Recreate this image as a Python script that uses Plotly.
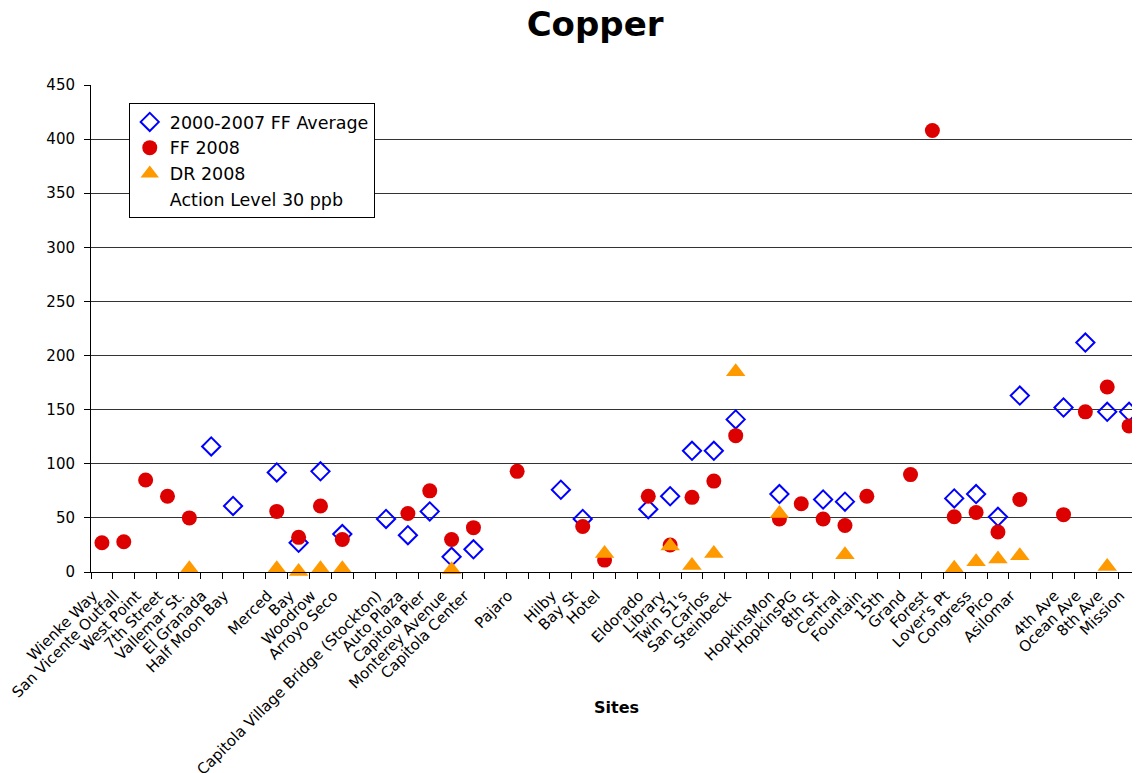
import plotly.graph_objects as go

categories = [
    "Wienke Way", "San Vicente Outfall", "West Point", "7th Street", "Vallemar St.",
    "El Granada", "Half Moon Bay", " ", "Merced", "Bay", "Woodrow", "Arroyo Seco", "  ",
    "Capitola Village Bridge (Stockton)", "Auto Plaza", "Capitola Pier", "Monterey Avenue",
    "Capitola Center", "   ", "Pajaro", "    ", "Hilby", "Bay St", "Hotel", "     ",
    "Eldorado", "Library", "Twin 51's", "San Carlos", "Steinbeck", "      ",
    "HopkinsMon", "HopkinsPG", "8th St", "Central", "Fountain", "15th", "Grand", "Forest",
    "Lover's Pt", "Congress", "Pico", "Asilomar", "       ", "4th Ave", "Ocean Ave",
    "8th Ave", "Mission",
]

ff_average = [
    None, None, None, None, None, 116, 61, None, 92, 27, 93, 35, None,
    49, 34, 56, 14, 21, None, None, None, 76, 49, None, None,
    58, 70, 112, 112, 141, None, 72, None, 67, 65, None, None, None, None,
    68, 72, 51, 163, None, 152, 212, 148, 148,
]

ff_2008 = [
    27, 28, 85, 70, 50, None, None, None, 56, 32, 61, 30, None,
    None, 54, 75, 30, 41, None, 93, None, None, 42, 11, None,
    70, 25, 69, 84, 126, None, 49, 63, 49, 43, 70, None, 90, 408,
    51, 55, 37, 67, None, 53, 148, 171, 135,
]

dr_2008 = [
    None, None, None, None, 3, None, None, None, 3, 0.5, 3, 3, None,
    None, None, None, 2, None, None, None, None, None, None, 17, None,
    None, 24, 6, 17, 185, None, 54, None, None, 16, None, None, None, None,
    3.5, 9.5, 12, 15, None, None, None, 5, None,
]

action_level = [30] * len(categories)

y_ticks = [0, 50, 100, 150, 200, 250, 300, 350, 400, 450]

FONT = "DejaVu Sans"

fig = go.Figure()
fig.add_trace(go.Scatter(
    x=categories, y=ff_average, mode="markers", name="2000-2007 FF Average", cliponaxis=False,
    marker=dict(symbol="diamond-open", size=14, color="#0000FF", line=dict(width=2, color="#0000FF")),
))
fig.add_trace(go.Scatter(
    x=categories, y=ff_2008, mode="markers", name="FF 2008", cliponaxis=False,
    marker=dict(symbol="circle", size=15, color="#DD0000"),
))
fig.add_trace(go.Scatter(
    x=categories, y=dr_2008, mode="markers", name="DR 2008", cliponaxis=False,
    marker=dict(symbol="triangle-up", size=17, color="#FF9900"),
))
fig.add_trace(go.Scatter(
    x=categories, y=action_level, mode="lines", name="Action Level 30 ppb",
    line=dict(color="rgba(0,0,0,0)", width=1), hoverinfo="skip",
))

# page body adds an 8px offset; figure sized so the plot area lands where the reference has it
fig.update_layout(
    width=1132, height=765,
    margin=dict(l=83, r=0, t=77, b=201, autoexpand=False),
    paper_bgcolor="white", plot_bgcolor="white",
    title=dict(text="<b>Copper</b>", x=0.5186, xanchor="center", y=0.979, yanchor="middle",
               font=dict(family=FONT, size=34, color="black")),
    font=dict(family=FONT, color="black"),
    showlegend=True,
    legend=dict(x=0.036, y=0.963, xanchor="left", yanchor="top",
                bgcolor="white", bordercolor="black", borderwidth=1,
                font=dict(family=FONT, size=17.5, color="black"),
                itemwidth=30, tracegroupgap=0),
    xaxis=dict(
        type="category", categoryorder="array", categoryarray=categories,
        range=[-0.5, len(categories) - 0.5], automargin=False,
        tickangle=-45, tickson="boundaries", ticks="outside", ticklen=6, tickcolor="black",
        showline=True, linecolor="black", linewidth=1, showgrid=False,
        tickfont=dict(family=FONT, size=15, color="black"),
        ticklabelstandoff=8, ticklabelshift=-9,
    ),
    yaxis=dict(
        range=[0, 450], tickvals=y_ticks, ticks="outside", ticklen=6, tickcolor="black",
        showline=True, linecolor="black", linewidth=1, automargin=False,
        showgrid=True, gridcolor="#333333", gridwidth=1, zeroline=False,
        tickfont=dict(family=FONT, size=15, color="black"), ticklabelstandoff=6,
    ),
    annotations=[dict(text="<b>Sites</b>", xref="paper", yref="paper", x=0.501, y=-0.279,
                      xanchor="center", yanchor="middle", showarrow=False,
                      font=dict(family=FONT, size=16, color="black"))],
)

fig.write_html("out.html")
